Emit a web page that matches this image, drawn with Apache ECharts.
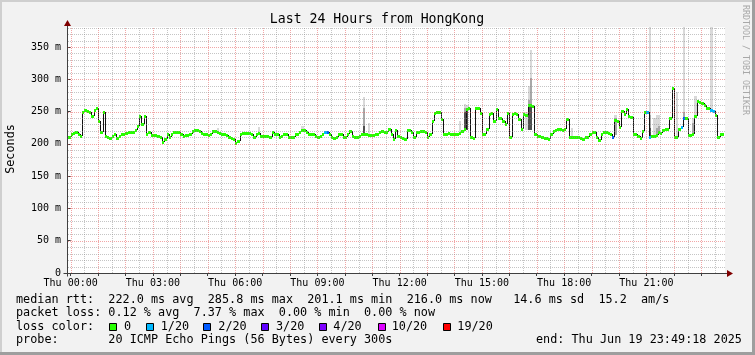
<!DOCTYPE html>
<html><head><meta charset="utf-8">
<script src="https://cdn.jsdelivr.net/npm/echarts@6/dist/echarts.min.js"></script>
<style>html,body{margin:0;padding:0;background:#f2f2f2}#c{width:755px;height:355px}</style>
</head><body><div id="c"></div>
<script>
// ---------------- data ----------------
const titleText = 'Last 24 Hours from HongKong';
const yAxisTitle = 'Seconds';
const watermarkText = 'RRDTOOL / TOBI OETIKER';
const startMinute = -10;      // Wed 23:50, minutes relative to Thu 00:00
const stepMinutes = 5;        // 300 s probe step
const viewMinMinute = -8;
const viewMaxMinute = 1432;
const yMaxMs = 381;

// median rtt per 5-minute step (ms)
const medianMs = [
  210, 211,
  216, 217.5, 218.5, 215, 212, 249, 252, 251, 249, 243, 252, 255,
  236, 219, 250, 212, 210, 209, 212, 215, 209, 212, 216, 216,
  217.5, 218.5, 218.5, 219, 221, 228, 243, 230, 243, 215, 218, 214,
  213, 214, 212, 210, 203.5, 207, 215, 211, 215, 218.5, 218.5, 218.5,
  215, 212, 213, 213, 216, 220, 221, 221, 220, 217.5, 216, 215,
  213, 215, 220, 220, 218.5, 217.5, 216, 215, 213, 211, 209, 207,
  202, 204.6, 215, 217.5, 217.5, 217.5, 216.5, 215, 211, 216, 217.5, 212,
  212, 212, 212, 210, 218.5, 215, 215, 210, 212, 215, 216, 211,
  210, 211, 215, 215, 218.5, 221, 221, 218.5, 215, 216, 216, 212,
  210, 212, 215, 218.5, 218, 215, 211, 209, 211, 215, 215, 211,
  211, 215, 220, 212, 211, 211, 212, 215, 216, 215, 214, 214,
  214, 215, 216, 218.5, 220, 219, 219, 222.6, 216, 207, 221, 212,
  210.8, 209.8, 207, 221, 221, 218.5, 211, 218.5, 219, 220, 220, 219,
  210, 215, 235.5, 248.5, 250, 249, 238, 215, 216, 217.5, 216, 215,
  215, 215, 217.5, 220, 222.6, 253.6, 256.2, 210, 209, 255, 255, 248.5,
  215, 215, 223.7, 247, 248, 235.5, 254.6, 240.7, 239.7, 235.5, 231.4, 248.5,
  210.8, 247, 248.5, 246, 238, 222.6, 246, 245, 259.8, 259.8, 258.8, 215,
  212, 212, 211, 209.8, 209.8, 207, 215, 220, 221, 222.6, 222.6, 222,
  222.6, 238, 210, 210, 211, 210, 210, 208.7, 208, 210, 211, 215,
  218.5, 218.5, 211, 206, 215, 218.5, 218.5, 217.5, 215, 210, 236.6, 235.5,
  226, 251, 247, 254, 242.8, 241.7, 215, 215, 212, 209, 220, 250,
  249, 210.8, 212, 212, 214, 219, 217.5, 221, 223, 222.6, 240.7, 286,
  210, 210, 222.6, 226, 240.7, 240, 213, 214, 216, 243, 266.5, 265.5,
  264, 260.3, 256, 255, 253, 251, 245, 210.8, 215, 216
];

// steps with packet loss (minute of step, lost pings out of 20)
const lossMinutes = [555, 560, 1185, 1260, 1265, 1335, 1340, 1400, 1405];
const lossCounts  = [1, 2, 2, 1, 1, 1, 2, 1, 1];

// visible smoke (ping spread) per step
const smokeMinutes = [320, 410, 505, 640, 650, 850, 860, 865, 995, 1000, 1005, 1095, 1190, 1265, 1275, 1280, 1285, 1325, 1340, 1360, 1365, 1400];
const smokeLowMs   = [217, 216, 219, 214, 213, 216, 220, 222, 222, 222, 222, 209, 213, 209, 211, 212, 216, 209, 238, 214, 240, 250];
const smokeDarkMs  = [null, null, null, 228, null, null, 250, 252, null, 259, 262, null, null, 225, null, null, null, null, null, null, null, null];
const smokeMidMs   = [null, null, null, 256, null, null, 256, 256, null, 268, 302, null, 240, 245, null, 225, 228, null, 250, 232, null, null];
const smokeHighMs  = [224, 226, 228, 272, 232, 236, 262, 260, 250, 290, 346, 225, 245, 381, 240, 245, 245, 281, 381, 240, 274, 381];

// axes
const xTickHours  = [0,1,2,3,4,5,6,7,8,9,10,11,12,13,14,15,16,17,18,19,20,21,22,23];
const xLabelHours = [0, 3, 6, 9, 12, 15, 18, 21];
const xLabelTexts = ['Thu 00:00','Thu 03:00','Thu 06:00','Thu 09:00','Thu 12:00','Thu 15:00','Thu 18:00','Thu 21:00'];
const yLabelValues = [0, 50, 100, 150, 200, 250, 300, 350];
const yMinorStep = 10;
const xMinorStepMinutes = 30;

// legend
const statsLines = [
  'median rtt:  222.0 ms avg  285.8 ms max  201.1 ms min  216.0 ms now   14.6 ms sd  15.2  am/s',
  'packet loss: 0.12 % avg  7.37 % max  0.00 % min  0.00 % now'
];
const lossLegendTitle = 'loss color:';
const lossLegendCounts = [0, 1, 2, 3, 4, 10, 19];
const lossLegendLabels = ['0', '1/20', '2/20', '3/20', '4/20', '10/20', '19/20'];
const lossLegendColors = ['#26ff00', '#00b8ff', '#0059ff', '#5e00ff', '#7e00ff', '#dd00ff', '#ff0000'];
const probeText = 'probe:       20 ICMP Echo Pings (56 Bytes) every 300s';
const endText = 'end: Thu Jun 19 23:49:18 2025';

// ---------------- styling ----------------
const MONO = '"DejaVu Sans Mono", "Liberation Mono", monospace';
const MINOR_GRID = 'rgba(140,140,140,0.5)';
const MAJOR_GRID = 'rgba(228,80,80,0.5)';
const AXIS_COLOR = '#404040';
const ARROW_COLOR = '#800000';
const SMOKE_LIGHT = '#d9d9d9', SMOKE_MID = '#a8a8a8', SMOKE_DARK = '#505050';

function dotPattern(color, horizontal) {
  const c = document.createElement('canvas');
  c.width = horizontal ? 2 : 1; c.height = horizontal ? 1 : 2;
  const g = c.getContext('2d'); g.fillStyle = color; g.fillRect(0, 0, 1, 1);
  return {image: c, repeat: 'repeat'};
}
const PAT = {
  minorH: dotPattern(MINOR_GRID, true), majorH: dotPattern(MAJOR_GRID, true),
  minorV: dotPattern(MINOR_GRID, false), majorV: dotPattern(MAJOR_GRID, false)
};

function lossColor(n) {
  let idx = 0;
  for (let i = 0; i < lossLegendCounts.length; i++) if (n >= lossLegendCounts[i]) idx = i;
  return lossLegendColors[idx];
}

// build series tables from arrays
const medianData = medianMs.map((v, i) => {
  const t = startMinute + i * stepMinutes;
  const li = lossMinutes.indexOf(t);
  const loss = li >= 0 ? lossCounts[li] : 0;
  const prev = i > 0 ? medianMs[i - 1] : v;
  return [t, v, loss, prev];
});
const smokeData = smokeMinutes.map((t, i) => [t, smokeLowMs[i], smokeHighMs[i],
  smokeMidMs[i] == null ? -1 : smokeMidMs[i], smokeDarkMs[i] == null ? -1 : smokeDarkMs[i]]);

const vGrid = [];
for (let m = 0; m <= viewMaxMinute; m += xMinorStepMinutes) vGrid.push([m, 0]);
const hGrid = [];
for (let v = yMinorStep; v <= yMaxMs; v += yMinorStep) hGrid.push([viewMinMinute, v]);

const chart = echarts.init(document.getElementById('c'), null, {renderer: 'canvas', width: 755, height: 355});

function colRect(api, t, lo, hi) {
  const a = api.coord([t, hi]);
  const b = api.coord([t + stepMinutes, lo]);
  const x0 = Math.round(a[0]), x1 = Math.round(b[0]);
  const y0 = Math.round(a[1]), y1 = Math.round(b[1]);
  return {x: x0, y: y0, width: Math.max(1, x1 - x0), height: Math.max(1, y1 - y0)};
}

const option = {
  animation: false,
  backgroundColor: '#f2f2f2',
  grid: {left: 67, right: 30, top: 27, bottom: 82, show: true, backgroundColor: '#ffffff', borderWidth: 0, containLabel: false},
  xAxis: {
    type: 'value', min: viewMinMinute, max: viewMaxMinute,
    axisLine: {show: false},
    axisTick: {show: true, length: 3, customValues: xTickHours.map(h => h * 60), lineStyle: {color: AXIS_COLOR}},
    axisLabel: {
      customValues: xLabelHours.map(h => h * 60),
      formatter: v => { const k = xLabelHours.indexOf(Math.round(v / 60)); return k >= 0 ? xLabelTexts[k] : ''; },
      fontFamily: MONO, fontSize: 10, color: '#000', margin: 5
    },
    splitLine: {show: false}
  },
  yAxis: {
    type: 'value', min: 0, max: yMaxMs,
    axisLine: {show: false},
    axisTick: {show: true, length: 3, customValues: yLabelValues, lineStyle: {color: AXIS_COLOR}},
    axisLabel: {
      customValues: yLabelValues,
      formatter: v => v === 0 ? '0' : v + ' m',
      fontFamily: MONO, fontSize: 10, color: '#000', margin: 6
    },
    splitLine: {show: false}
  },
  series: [
    {
      type: 'custom', name: 'smoke', z: 2, clip: true, silent: true,
      data: smokeData,
      renderItem: (params, api) => {
        const t = api.value(0), lo = api.value(1), hi = api.value(2), mid = api.value(3), dk = api.value(4);
        const ch = [{type: 'rect', shape: colRect(api, t, lo, hi), style: {fill: SMOKE_LIGHT}}];
        if (mid > 0) ch.push({type: 'rect', shape: colRect(api, t, lo, mid), style: {fill: SMOKE_MID}});
        if (dk > 0) ch.push({type: 'rect', shape: colRect(api, t, lo, dk), style: {fill: SMOKE_DARK}});
        return {type: 'group', children: ch};
      }
    },
    {
      type: 'custom', name: 'median', z: 3, clip: true, silent: true,
      data: medianData,
      renderItem: (params, api) => {
        const t = api.value(0), v = api.value(1), loss = api.value(2), prev = api.value(3);
        const p = api.coord([t, v]), pe = api.coord([t + stepMinutes, v]), pp = api.coord([t, prev]);
        const x0 = Math.round(p[0]), x1 = Math.round(pe[0]);
        const y = Math.round(p[1]), yp = Math.round(pp[1]);
        const ch = [];
        if (yp !== y) ch.push({type: 'line', shape: {x1: x0 + 0.5, y1: yp, x2: x0 + 0.5, y2: y}, style: {stroke: '#111111', lineWidth: 1}});
        ch.push({type: 'rect', shape: {x: x0, y: y - 1, width: Math.max(1, x1 - x0), height: 3}, style: {fill: lossColor(loss)}});
        return {type: 'group', children: ch};
      }
    },
    {
      type: 'custom', name: 'vgrid', z: 4, clip: false, silent: true,
      data: vGrid,
      renderItem: (params, api) => {
        const m = api.value(0);
        const a = api.coord([m, yMaxMs]), b = api.coord([m, 0]);
        const x = Math.round(a[0]);
        return {type: 'rect', shape: {x: x, y: Math.round(a[1]), width: 1, height: Math.round(b[1]) - Math.round(a[1])},
          style: {fill: m % 60 === 0 ? PAT.majorV : PAT.minorV}};
      }
    },
    {
      type: 'custom', name: 'hgrid', z: 4, clip: false, silent: true,
      data: hGrid,
      renderItem: (params, api) => {
        const v = api.value(1);
        const a = api.coord([viewMinMinute, v]), b = api.coord([viewMaxMinute, v]);
        const y = Math.round(a[1]);
        return {type: 'rect', shape: {x: Math.round(a[0]) + 1, y: y, width: Math.round(b[0]) - Math.round(a[0]) - 1, height: 1},
          style: {fill: v % 50 === 0 ? PAT.majorH : PAT.minorH}};
      }
    }
  ]
};
chart.setOption(option);

// decorations and texts
const origin = chart.convertToPixel({gridIndex: 0}, [viewMinMinute, 0]);
const xEnd = chart.convertToPixel({gridIndex: 0}, [viewMaxMinute, 0]);
const yTop = chart.convertToPixel({gridIndex: 0}, [viewMinMinute, yMaxMs]);
const ax = Math.round(origin[0]) + 0.5, ay = Math.round(origin[1]) + 0.5;
const xe = Math.round(xEnd[0]), yt = Math.round(yTop[1]);

const graphics = [
  // frame shading
  {type: 'rect', shape: {x: 0, y: 0, width: 755, height: 2}, style: {fill: '#cfcfcf'}, silent: true},
  {type: 'rect', shape: {x: 0, y: 0, width: 2, height: 355}, style: {fill: '#cfcfcf'}, silent: true},
  {type: 'rect', shape: {x: 0, y: 352, width: 755, height: 3}, style: {fill: '#9e9e9e'}, silent: true},
  {type: 'rect', shape: {x: 752, y: 0, width: 3, height: 355}, style: {fill: '#9e9e9e'}, silent: true},
  // axes + arrows
  {type: 'line', shape: {x1: ax - 4, y1: ay, x2: xe + 3, y2: ay}, style: {stroke: AXIS_COLOR, lineWidth: 1}, silent: true, z: 10},
  {type: 'line', shape: {x1: ax, y1: ay + 3, x2: ax, y2: yt - 3}, style: {stroke: AXIS_COLOR, lineWidth: 1}, silent: true, z: 10},
  {type: 'polygon', shape: {points: [[xe + 2, ay - 3.5], [xe + 8, ay], [xe + 2, ay + 3.5]]}, style: {fill: ARROW_COLOR}, silent: true, z: 10},
  {type: 'polygon', shape: {points: [[ax - 3.5, yt - 1], [ax, yt - 7], [ax + 3.5, yt - 1]]}, style: {fill: ARROW_COLOR}, silent: true, z: 10},
  // title & side texts
  {type: 'text', x: 377, y: 19.5, style: {text: titleText, font: '13.2px ' + MONO, fill: '#000', align: 'center', verticalAlign: 'middle'}, silent: true},
  {type: 'text', x: 10.5, y: 149, rotation: Math.PI / 2, style: {text: yAxisTitle, font: '11.8px ' + MONO, fill: '#000', align: 'center', verticalAlign: 'middle'}, silent: true},
  {type: 'text', x: 745.5, y: 60, rotation: -Math.PI / 2, style: {text: watermarkText, font: '8.3px ' + MONO, fill: '#a8a8a8', align: 'center', verticalAlign: 'middle'}, silent: true},
  // stats
  {type: 'text', x: 16, y: 299.5, style: {text: statsLines[0], font: '11.8px ' + MONO, fill: '#000', align: 'left', verticalAlign: 'middle'}, silent: true},
  {type: 'text', x: 16, y: 313, style: {text: statsLines[1], font: '11.8px ' + MONO, fill: '#000', align: 'left', verticalAlign: 'middle'}, silent: true},
  {type: 'text', x: 16, y: 326.5, style: {text: lossLegendTitle, font: '11.8px ' + MONO, fill: '#000', align: 'left', verticalAlign: 'middle'}, silent: true},
  {type: 'text', x: 16, y: 340, style: {text: probeText, font: '11.8px ' + MONO, fill: '#000', align: 'left', verticalAlign: 'middle'}, silent: true},
  {type: 'text', x: 536, y: 340, style: {text: endText, font: '11.8px ' + MONO, fill: '#000', align: 'left', verticalAlign: 'middle'}, silent: true}
];
const boxX = [109, 145.7, 203.3, 261, 319, 378.3, 442.7];
const labX = [124, 160.7, 218.3, 276, 333.3, 391.7, 457.3];
lossLegendLabels.forEach((lab, i) => {
  graphics.push({type: 'rect', shape: {x: Math.round(boxX[i]) + 0.5, y: 323.5, width: 7, height: 7}, style: {fill: lossLegendColors[i], stroke: '#000', lineWidth: 1}, silent: true});
  graphics.push({type: 'text', x: labX[i], y: 326.5, style: {text: lab, font: '11.8px ' + MONO, fill: '#000', align: 'left', verticalAlign: 'middle'}, silent: true});
});
chart.setOption({graphic: graphics});
</script>
</body></html>
